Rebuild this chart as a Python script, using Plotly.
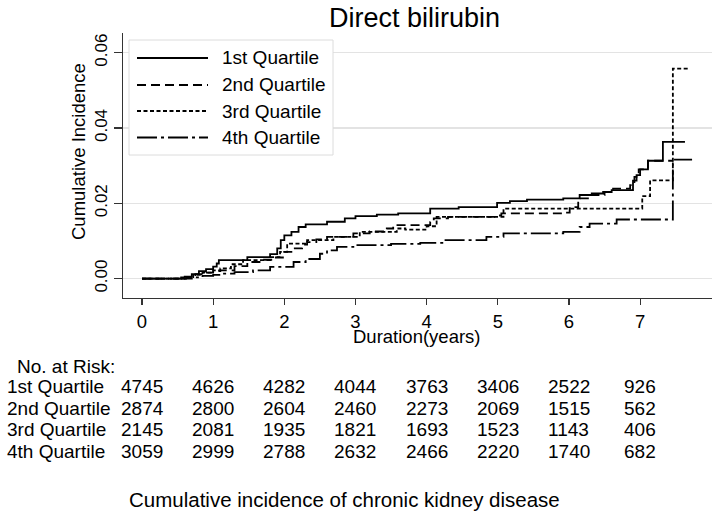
import plotly.graph_objects as go

# ---------------- data ----------------
t_q1 = [0, 0.55, 0.6, 0.7, 0.8, 0.9, 1.0, 1.05, 1.08, 1.48, 1.8, 1.9, 1.95, 2.0, 2.1, 2.2, 2.3,
        2.6, 2.85, 3.0, 3.3, 3.6, 4.05, 4.45, 4.99, 5.17, 5.41, 5.92, 6.15, 6.32, 6.48, 6.6,
        6.9, 6.95, 7.0, 7.11, 7.32, 7.63]
ci_q1 = [0, 0.0003, 0.0005, 0.0012, 0.002, 0.0025, 0.0032, 0.004, 0.0049, 0.0057, 0.0065, 0.008,
         0.0102, 0.0115, 0.0124, 0.0137, 0.0144, 0.0151, 0.016, 0.0166, 0.017, 0.0173, 0.0186,
         0.019, 0.0201, 0.0206, 0.021, 0.0213, 0.0222, 0.0226, 0.023, 0.0235, 0.026, 0.0275,
         0.029, 0.0313, 0.0363, 0.0363]

t_q2 = [0, 0.62, 0.75, 0.9, 1.0, 1.1, 1.3, 1.48, 1.7, 1.85, 1.98, 2.13, 2.25, 2.32, 2.45, 2.6,
        2.97, 3.2, 3.44, 3.53, 4.05, 4.1, 4.3, 5.03, 5.05, 5.95, 6.01, 6.13, 6.29, 6.5, 6.62,
        6.86, 6.92, 6.98, 7.11, 7.46]
ci_q2 = [0, 0.0004, 0.0012, 0.0016, 0.002, 0.0022, 0.0033, 0.0044, 0.005, 0.0056, 0.0071, 0.008,
         0.009, 0.0097, 0.0104, 0.0111, 0.012, 0.0125, 0.0133, 0.0142, 0.015, 0.016, 0.0164,
         0.0168, 0.0173, 0.0175, 0.019, 0.0213, 0.0222, 0.023, 0.0239, 0.0248, 0.027, 0.029,
         0.0313, 0.0313]

t_q3 = [0, 0.6, 0.72, 0.85, 1.0, 1.1, 1.25, 1.42, 1.8, 1.94, 2.04, 2.32, 2.69, 3.06, 3.58,
        3.7, 4.0, 4.14, 5.08, 7.03, 7.14, 7.46, 7.67]
ci_q3 = [0, 0.0004, 0.001, 0.0016, 0.0022, 0.0027, 0.0038, 0.0049, 0.0057, 0.0071, 0.0093,
         0.0102, 0.0111, 0.0124, 0.0133, 0.013, 0.0139, 0.0164, 0.0186, 0.0219, 0.0261, 0.0558,
         0.0558]

t_q4 = [0, 0.7, 0.85, 1.0, 1.1, 1.3, 1.56, 1.8, 2.13, 2.3, 2.5, 2.6, 2.74, 2.97, 3.5, 3.91,
        4.24, 4.84, 5.08, 5.92, 6.15, 6.29, 6.67, 7.46, 7.73]
ci_q4 = [0, 0.0003, 0.0007, 0.001, 0.0013, 0.0017, 0.0022, 0.0031, 0.0044, 0.0052, 0.0066,
         0.0075, 0.0084, 0.0089, 0.0092, 0.0095, 0.0102, 0.0111, 0.012, 0.0124, 0.0137, 0.0146,
         0.0157, 0.0316, 0.0316]

series_names = ["1st Quartile", "2nd Quartile", "3rd Quartile", "4th Quartile"]

risk_times = [0, 1, 2, 3, 4, 5, 6, 7]
risk_q1 = [4745, 4626, 4282, 4044, 3763, 3406, 2522, 926]
risk_q2 = [2874, 2800, 2604, 2460, 2273, 2069, 1515, 562]
risk_q3 = [2145, 2081, 1935, 1821, 1693, 1523, 1143, 406]
risk_q4 = [3059, 2999, 2788, 2632, 2466, 2220, 1740, 682]

y_ticks = [0.00, 0.02, 0.04, 0.06]
y_tick_labels = ["0.00", "0.02", "0.04", "0.06"]

# ---------------- layout geometry ----------------
W, H = 717, 516
L, R, T, B = 123, 5, 33, 218
PW, PH = W - L - R, H - T - B
FONT = "Liberation Sans, Arial, Helvetica, sans-serif"


def px_x(px):
    return (px - L) / PW


def px_y(py):
    return (H - B - py) / PH


dashes = ["solid", "9px,5px", "4px,2.5px", "20px,4px,3px,4px"]
times = [t_q1, t_q2, t_q3, t_q4]
vals = [ci_q1, ci_q2, ci_q3, ci_q4]

fig = go.Figure()
for name, t, v, d in zip(series_names, times, vals, dashes):
    fig.add_trace(go.Scatter(x=t, y=v, mode="lines", name=name, showlegend=False,
                             hoverinfo="skip",
                             line=dict(shape="hv", color="black", width=1.8, dash=d)))

shapes = []
annotations = []

# manual legend
shapes.append(dict(type="rect", xref="paper", yref="paper",
                   x0=px_x(129), x1=px_x(333), y0=px_y(155), y1=px_y(40),
                   line=dict(color="#dcdcdc", width=1), fillcolor="white", layer="above"))
leg_y = [58, 85, 111, 137.5]
for name, d, ly in zip(series_names, dashes, leg_y):
    shapes.append(dict(type="line", xref="paper", yref="paper",
                       x0=px_x(137), x1=px_x(208), y0=px_y(ly), y1=px_y(ly),
                       line=dict(color="black", width=1.8, dash=d), layer="above"))
    annotations.append(dict(text=name, xref="paper", yref="paper", x=px_x(220), y=px_y(ly),
                            xanchor="left", yanchor="middle", showarrow=False,
                            font=dict(size=19, color="black", family=FONT)))

# title
annotations.append(dict(text="Direct bilirubin", xref="paper", yref="paper",
                        x=px_x(414), y=px_y(18), xanchor="center", yanchor="middle",
                        showarrow=False, font=dict(size=27, color="black", family=FONT)))
# axis titles
annotations.append(dict(text="Cumulative Incidence", xref="paper", yref="paper",
                        x=px_x(78), y=px_y(152), xanchor="center", yanchor="middle",
                        textangle=-90, showarrow=False,
                        font=dict(size=18.5, color="black", family=FONT)))
annotations.append(dict(text="Duration(years)", xref="paper", yref="paper",
                        x=px_x(417), y=px_y(336.5), xanchor="center", yanchor="middle",
                        showarrow=False, font=dict(size=18.5, color="black", family=FONT)))

# risk table
annotations.append(dict(text="No. at Risk:", xref="paper", yref="paper",
                        x=px_x(15), y=px_y(366), xanchor="left", yanchor="middle",
                        showarrow=False, font=dict(size=19, color="black", family=FONT)))
row_y = [386.5, 408, 429.5, 451]
for name, row, ry in zip(series_names, [risk_q1, risk_q2, risk_q3, risk_q4], row_y):
    annotations.append(dict(text=name, xref="paper", yref="paper",
                            x=px_x(5), y=px_y(ry), xanchor="left", yanchor="middle",
                            showarrow=False, font=dict(size=19, color="black", family=FONT)))
    for tt, n in zip(risk_times, row):
        annotations.append(dict(text=str(n), xref="x", yref="paper", x=tt, y=px_y(ry),
                                xanchor="center", yanchor="middle", showarrow=False,
                                font=dict(size=19, color="black", family=FONT)))

# caption
annotations.append(dict(text="Cumulative incidence of chronic kidney disease", xref="paper",
                        yref="paper", x=px_x(127), y=px_y(499.5), xanchor="left",
                        yanchor="middle", showarrow=False,
                        font=dict(size=20.5, color="black", family=FONT)))

fig.update_layout(
    width=W, height=H,
    margin=dict(l=L, r=R, t=T, b=B, pad=0),
    paper_bgcolor="white", plot_bgcolor="white",
    font=dict(family=FONT, color="black", size=18),
    shapes=shapes, annotations=annotations,
    showlegend=False,
    xaxis=dict(range=[-0.267, 8.01], tickvals=risk_times, ticks="outside", ticklen=6,
               tickwidth=1.2, tickcolor="#333", showline=True, linecolor="#333",
               linewidth=1.4, showgrid=False, zeroline=False,
               tickfont=dict(size=18.5, color="black", family=FONT)),
    yaxis=dict(range=[-0.00516, 0.06524], tickvals=y_ticks, ticktext=y_tick_labels,
               tickangle=-90, ticks="outside", ticklen=8, tickwidth=1.2, tickcolor="#333",
               showline=True, linecolor="#333", linewidth=1.4, showgrid=True,
               gridcolor="#e3e3e3", gridwidth=1.2, zeroline=False,
               tickfont=dict(size=17, color="black", family=FONT)),
)

fig.write_html("out.html", config={"displayModeBar": False, "staticPlot": True},
               post_script="document.body.style.margin='0';document.body.style.padding='0';")
